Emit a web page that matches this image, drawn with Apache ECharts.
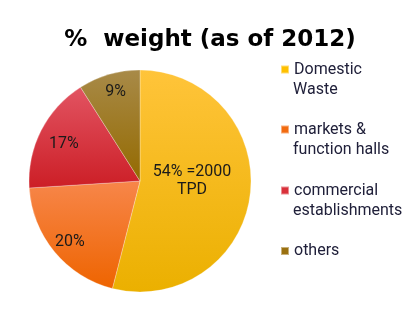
<!DOCTYPE html>
<html>
<head>
<meta charset="utf-8">
<script src="https://cdn.jsdelivr.net/npm/echarts@6/dist/echarts.min.js"></script>
<style>
html,body{margin:0;padding:0;background:#fff;}
#chart{width:420px;height:322px;}
</style>
</head>
<body>
<div id="chart"></div>
<script>
const categories = ['Domestic Waste', 'markets & function halls', 'commercial establishments', 'others'];
const values = [54, 20, 17, 9];
const sliceLabels = ['54% =2000\nTPD', '20%', '17%', '9%'];
const legendLine1 = ['Domestic', 'markets &', 'commercial', 'others'];
const legendLine2 = ['Waste', 'function halls', 'establishments', ''];

const baseColors = ['#FFC000', '#F26B10', '#D9303A', '#9A7010'];
const topColors = ['#FFC43A', '#F7864A', '#E25462', '#A88A48'];
const botColors = ['#EBB000', '#EE6400', '#CC1E26', '#946A00'];
const labelShift = [[-6, -7], [-25, 24], [-24, -10], [-8, -33]];
const legendTops = [59.5, 119.5, 180.5, 241];

const chart = echarts.init(document.getElementById('chart'), null, {renderer: 'canvas'});

const data = categories.map((c, i) => ({
  name: c,
  value: values[i],
  itemStyle: {
    color: new echarts.graphic.LinearGradient(0, 0, 0, 1, [
      {offset: 0, color: topColors[i]},
      {offset: 1, color: botColors[i]}
    ])
  },
  label: {formatter: sliceLabels[i]}
}));

const legendText = {
  fontFamily: 'Roboto',
  fontSize: 16,
  lineHeight: 20,
  color: '#20203a'
};

const legends = [];
categories.forEach((c, i) => {
  legends.push({
    data: [{name: c, itemStyle: {color: baseColors[i]}}],
    left: 280,
    top: legendTops[i],
    padding: 0,
    itemWidth: 8,
    itemHeight: 8,
    icon: 'rect',
    selectedMode: false,
    formatter: () => legendLine1[i],
    textStyle: legendText
  });
  if (legendLine2[i]) {
    legends.push({
      data: [{name: c}],
      left: 280,
      top: legendTops[i] + 20,
      padding: 0,
      itemWidth: 8,
      itemHeight: 8,
      icon: 'none',
      selectedMode: false,
      formatter: () => legendLine2[i],
      textStyle: legendText
    });
  }
});

chart.setOption({
  animation: false,
  title: {
    text: '%  weight (as of 2012)',
    left: 'center',
    top: 24,
    textStyle: {fontFamily: 'DejaVu Sans', fontWeight: 'bold', fontSize: 23, color: '#000'}
  },
  legend: legends,
  series: [{
    type: 'pie',
    center: [140, 181],
    radius: 111,
    startAngle: 90,
    clockwise: true,
    avoidLabelOverlap: false,
    itemStyle: {borderColor: 'rgba(255,255,255,0.45)', borderWidth: 0.6},
    label: {
      show: true,
      position: 'inside',
      fontFamily: 'Roboto',
      fontSize: 16,
      lineHeight: 18,
      color: '#1a1a1a'
    },
    labelLine: {show: false},
    labelLayout: function (p) {
      const s = labelShift[p.dataIndex];
      return {dx: s[0], dy: s[1]};
    },
    emphasis: {disabled: true},
    data: data
  }]
});
</script>
</body>
</html>
